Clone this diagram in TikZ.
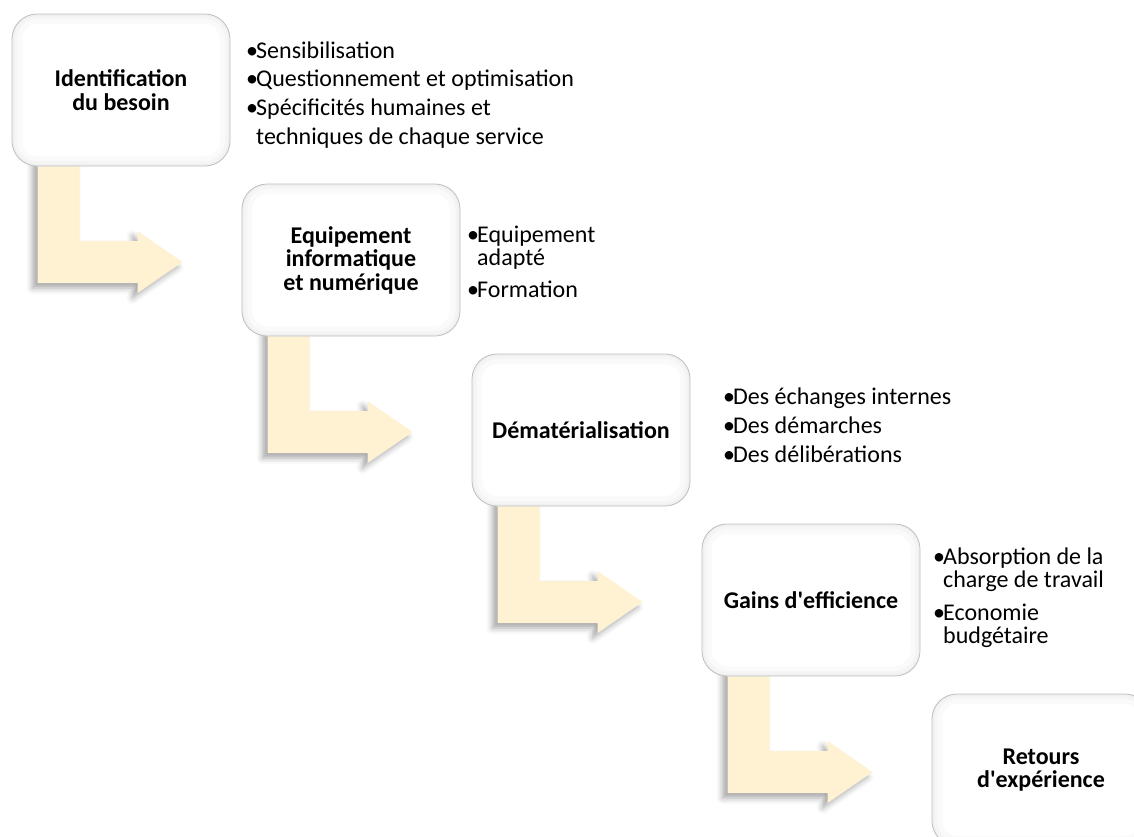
\documentclass[tikz,border=0pt]{standalone}
\usepackage{fontspec}
\setmainfont{Carlito}[Ligatures=TeXOff]
\usetikzlibrary{calc,shadows.blur,backgrounds}
\definecolor{arrowfill}{HTML}{FFF2D2}
\definecolor{boxline}{HTML}{BFBFBF}
\tikzset{
  stepbox/.style={draw=boxline, line width=0.8pt, fill=white, rounded corners=25pt,
    minimum width=218pt, minimum height=152pt, align=center, inner sep=0pt,
    font=\bfseries\fontsize{24}{23.5}\selectfont,
    path picture={
      \draw[black!2, line width=20pt, rounded corners=25pt]
        (path picture bounding box.south west) rectangle (path picture bounding box.north east);
      \draw[black!4, line width=10pt, rounded corners=25pt]
        (path picture bounding box.south west) rectangle (path picture bounding box.north east);
      \draw[black!6, line width=4pt, rounded corners=25pt]
        (path picture bounding box.south west) rectangle (path picture bounding box.north east);
    }},
  bul/.style={anchor=base west, inner sep=0pt, font=\fontsize{24}{23}\selectfont},
  bentfill/.style={fill=arrowfill,
    blur shadow={shadow xshift=-5pt, shadow yshift=-5pt, shadow blur radius=6pt, shadow opacity=35}},
}
\newcommand{\bulmark}{\makebox[10pt][l]{•}}
\newcommand{\bentarrow}[2]{%
  \coordinate (#1p) at ($(#1.south west)+(26,-14)$);
  \coordinate (#1q) at ($(#2.west)+(0,2)$);
  \fill[bentfill] (#1p) -- ++(42,0) -- ($(#1p |- #1q)+(42,-21)$)
    -- ($(#2.west |- #1q)+(-104,-21)$) -- ++(0,-10)
    -- ($(#2.west |- #1q)+(-59,0)$)
    -- ($(#2.west |- #1q)+(-104,31)$) -- ++(0,-10)
    -- ($(#1p |- #1q)+(0,21)$) -- cycle;
}
\begin{document}
\begin{tikzpicture}[x=1pt,y=-1pt]
\useasboundingbox (0,0) rectangle (1134,836);
\node[stepbox] (n1) at (121,90) {Identification\\du besoin};
\node[stepbox] (n2) at (351,260) {Equipement\\informatique\\et numérique};
\node[stepbox] (n3) at (581,430) {Dématérialisation};
\node[stepbox] (n4) at (811,600) {Gains d'efficience};
\node[stepbox] (n5) at (1041,770) {Retours\\d'expérience};
\begin{scope}[on background layer]
  \bentarrow{n1}{n2}
  \bentarrow{n2}{n3}
  \bentarrow{n3}{n4}
  \bentarrow{n4}{n5}
\end{scope}
% lists
\node[bul] (t1a) at (246,58) {\bulmark Sensibilisation};
\node[bul] (t1b) at (246,86) {\bulmark Questionnement et optimisation};
\node[bul] (t1c) at (246,115) {\bulmark Spécificités humaines et};
\node[bul] (t1d) at (256,144) {techniques de chaque service};
\node[bul] (t2a) at (467,242) {\bulmark Equipement};
\node[bul] (t2b) at (477,265) {adapté};
\node[bul] (t2c) at (467,297) {\bulmark Formation};
\node[bul] (t3a) at (723,404) {\bulmark Des échanges internes};
\node[bul] (t3b) at (723,433) {\bulmark Des démarches};
\node[bul] (t3c) at (723,462) {\bulmark Des délibérations};
\node[bul] (t4a) at (933,564) {\bulmark Absorption de la};
\node[bul] (t4b) at (943,587) {charge de travail};
\node[bul] (t4c) at (933,620) {\bulmark Economie};
\node[bul] (t4d) at (943,643) {budgétaire};
\end{tikzpicture}
\end{document}
